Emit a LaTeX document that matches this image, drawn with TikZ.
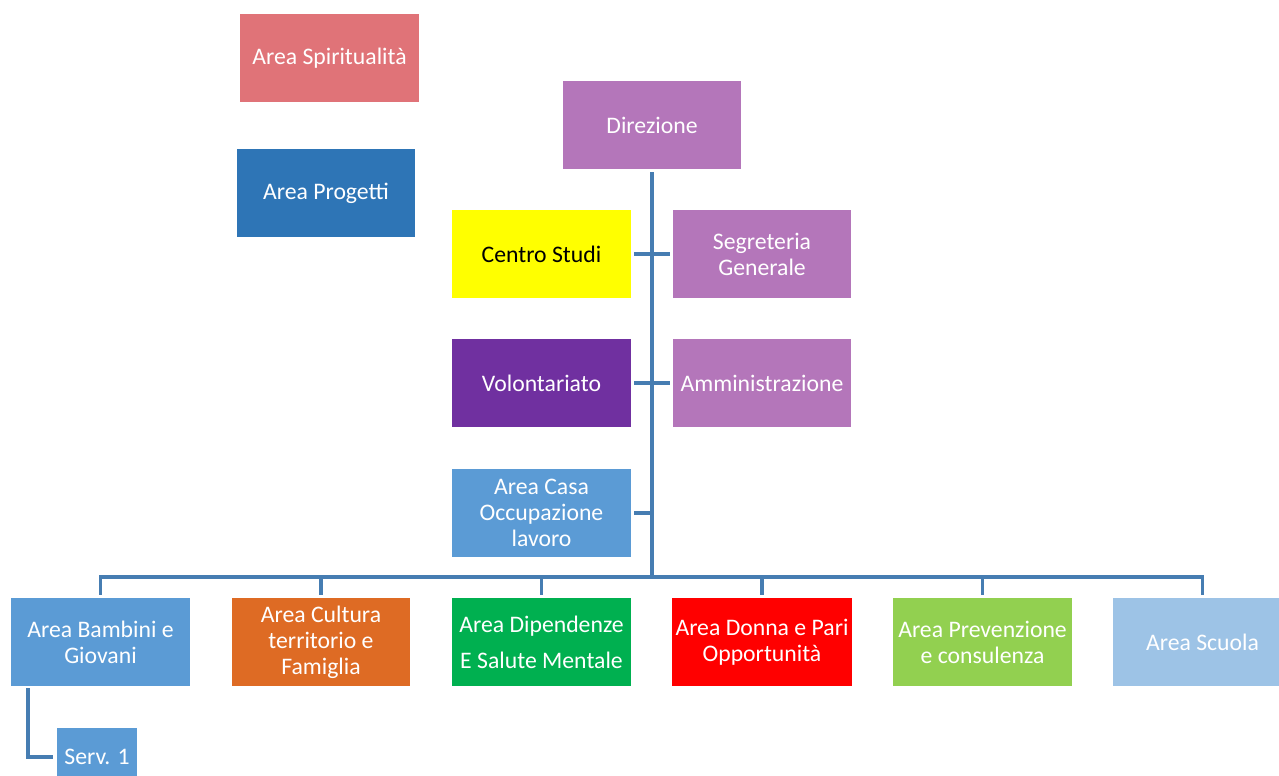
\documentclass[tikz,border=0pt]{standalone}
\usepackage{fontspec}
\setmainfont{Carlito}
\usepackage{xcolor}
\usepackage{tikz}
\usetikzlibrary{positioning,calc}
\definecolor{linkblue}{RGB}{70,125,178}
\definecolor{spirred}{RGB}{224,115,120}
\definecolor{progblue}{RGB}{46,117,182}
\definecolor{dirlilac}{RGB}{180,118,186}
\definecolor{csyellow}{RGB}{255,255,0}
\definecolor{volpurple}{RGB}{112,48,160}
\definecolor{areablue}{RGB}{91,155,213}
\definecolor{cultorange}{RGB}{222,107,36}
\definecolor{dipgreen}{RGB}{0,176,80}
\definecolor{donnared}{RGB}{255,0,0}
\definecolor{prevgreen}{RGB}{146,208,80}
\definecolor{scuolablue}{RGB}{157,195,230}
\tikzset{
  box/.style={minimum width=3.58cm, minimum height=1.76cm, inner sep=2pt,
    align=center, text=white, font=\fontsize{13.5}{14.8}\selectfont},
  link/.style={draw=linkblue, line width=2.1pt},
}

\begin{document}
\begin{tikzpicture}[x=0.02cm, y=-0.02cm]
    \useasboundingbox (0,0) rectangle (1279,775);

    % Staff areas (not connected)
    \node[box, fill=spirred] (spir) at (329.5,58) {Area Spiritualità};
    \node[box, fill=progblue] (prog) at (326,193) {Area Progetti};

    % Direction and staff
    \node[box, fill=dirlilac] (dir) at (652,125) {Direzione};
    \node[box, fill=csyellow, text=black] (cs) at (541.5,254) {Centro Studi};
    \node[box, fill=dirlilac] (seg) at (762,254) {Segreteria\\Generale};
    \node[box, fill=volpurple] (vol) at (541.5,383) {Volontariato};
    \node[box, fill=dirlilac] (amm) at (762,383) {Amministrazione};
    \node[box, fill=areablue] (casa) at (541.5,513) {Area Casa\\Occupazione\\lavoro};
    \coordinate (hub) at (652,577);

    % Operational areas
    \node[box, fill=areablue] (bamb) at (100.5,642) {Area Bambini e\\Giovani};
    \node[box, fill=cultorange] (cult) at (321,642) {Area Cultura\\territorio e\\Famiglia};
    \node[box, fill=dipgreen] (dip) at (541.5,642) {Area Dipendenze\\[0.2cm]E Salute Mentale};
    \node[box, fill=donnared] (donna) at (762,642) {Area Donna e Pari\\Opportunità};
    \node[box, fill=prevgreen] (prev) at (982.5,642) {Area Prevenzione\\e consulenza};
    \node[box, fill=scuolablue] (scuola) at (1202.5,642) {Area Scuola};

    % Service
    \node[box, fill=areablue, minimum width=1.6cm, minimum height=1.16cm] (serv) at (97,757) {Serv. 1};

    % Connectors
    \draw[link] ([yshift=-0.06cm]dir.south) -- (hub);
    \draw[link, shorten <=0.06cm, shorten >=0.04cm] (cs) -- (seg);
    \draw[link, shorten <=0.06cm, shorten >=0.04cm] (vol) -- (amm);
    \draw[link, shorten <=0.06cm] (casa.east) -- (casa.east -| hub);
    \draw[link, shorten <=0.06cm, shorten >=0.06cm] (bamb.north) |- (hub) -| (scuola.north);
    \foreach \n in {cult,dip,donna,prev}
        \draw[link, shorten >=0.06cm] (\n.north |- hub) -- (\n.north);
    \draw[link, shorten <=0.04cm, shorten >=0.08cm] ([xshift=0.34cm]bamb.south west) |- (serv.west);
\end{tikzpicture}
\end{document}
